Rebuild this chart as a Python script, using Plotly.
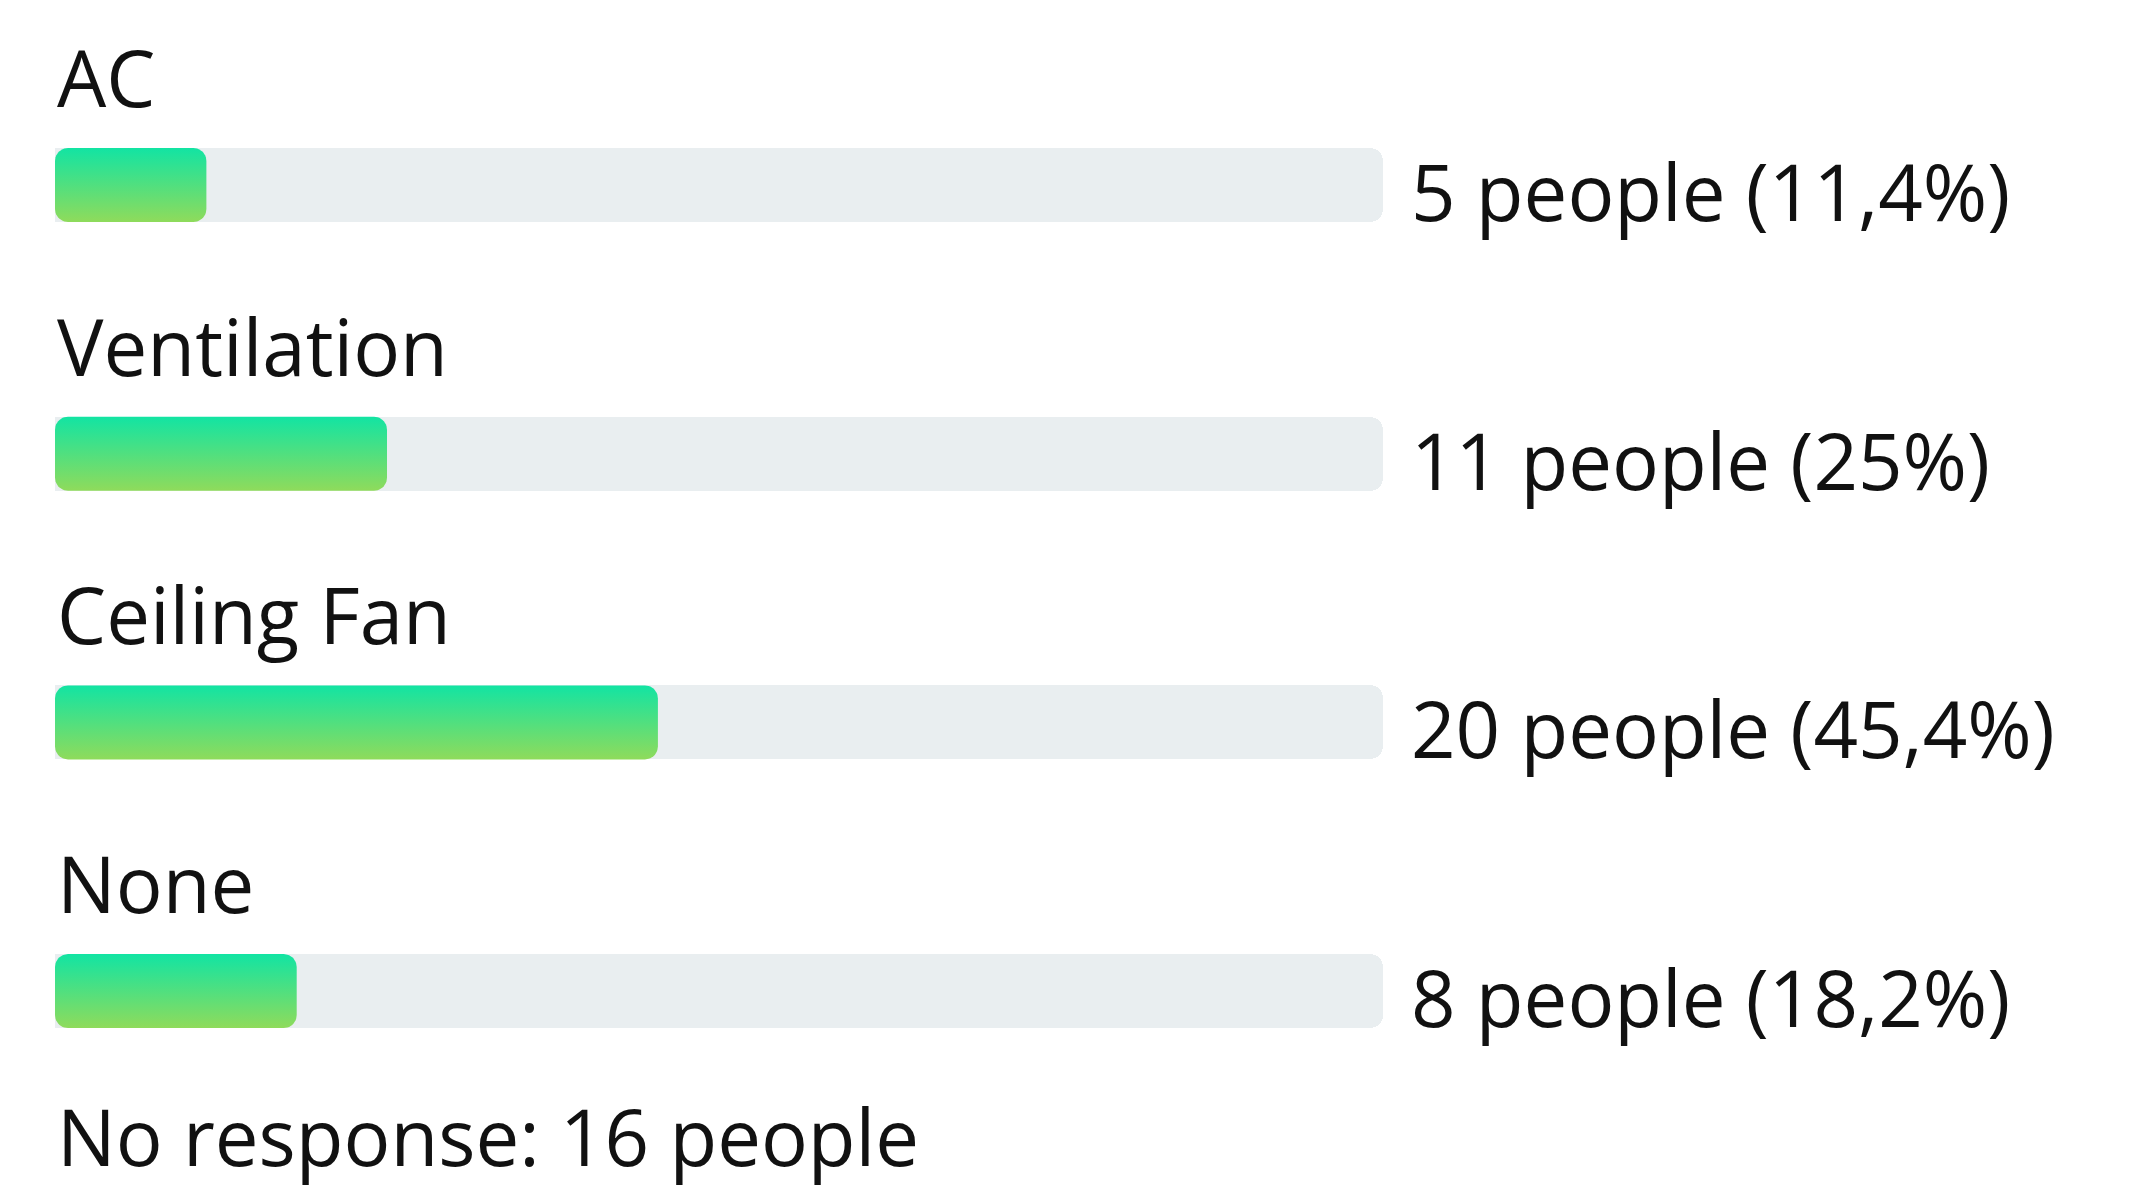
import numpy as np
import plotly.graph_objects as go

# ---- data ----
categories = ["AC", "Ventilation", "Ceiling Fan", "None"]
counts = [5, 11, 20, 8]
percents = [11.4, 25, 45.4, 18.2]
pct_labels = ["11,4%", "25%", "45,4%", "18,2%"]
no_response = 16

# ---- layout constants (pixels, relative to the figure div) ----
W, H = 2129, 1181
track_left_px, track_right_px = 47, 1375
first_center_px, step_px = 177, 268.7
bar_px = 74
radius_px = 13
FONT = "Open Sans"
FS = 78
label_shift = 108
value_shift = -6
footer_shift = label_shift - step_px + 16

sx = (track_right_px - track_left_px) / 100.0
x0 = -track_left_px / sx
x1 = x0 + W / sx
sy = step_px
y_top = -first_center_px / sy
y_bot = y_top + H / sy
bar_w = bar_px / sy

ypos = list(range(len(categories)))

fig = go.Figure()

# grey track (100%)
fig.add_trace(go.Bar(
    x=[100] * len(categories), y=ypos, orientation="h", width=bar_w,
    marker=dict(color="#e9eef0", cornerradius=radius_px, line=dict(width=0)),
    hoverinfo="skip", showlegend=False,
))


def rounded_rect(xa, xb, yc, half_h_px, r_px, n=12):
    wpx = (xb - xa) * sx
    r = min(r_px, wpx / 2, half_h_px)
    h = half_h_px
    pts = []
    arcs = [
        (wpx - r, -h + r, -90, 0),
        (wpx - r, h - r, 0, 90),
        (r, h - r, 90, 180),
        (r, -h + r, 180, 270),
    ]
    for cx, cy, a0, a1 in arcs:
        for t in np.linspace(np.radians(a0), np.radians(a1), n):
            pts.append((cx + r * np.cos(t), cy + r * np.sin(t)))
    pts.append(pts[0])
    xs = [xa + p[0] / sx for p in pts]
    ys = [yc + p[1] / sy for p in pts]
    return xs, ys


for i, p in enumerate(percents):
    xs, ys = rounded_rect(0, p, ypos[i], bar_px / 2, radius_px)
    fig.add_trace(go.Scatter(
        x=xs, y=ys, mode="lines", fill="toself", line=dict(width=0),
        fillgradient=dict(type="vertical",
                          colorscale=[[0, "#12e4a3"], [1, "#8fdb5b"]],
                          start=ypos[i] - bar_w / 2, stop=ypos[i] + bar_w / 2),
        hoverinfo="skip", showlegend=False,
    ))

annotations = []
for i, c in enumerate(categories):
    annotations.append(dict(
        x=0, y=ypos[i], xref="x", yref="y", text=c, showarrow=False,
        xanchor="left", yanchor="middle", yshift=label_shift,
        font=dict(family=FONT, size=FS, color="#111111"),
    ))
    annotations.append(dict(
        x=100, y=ypos[i], xref="x", yref="y",
        text=f"{counts[i]} people ({pct_labels[i]})", showarrow=False,
        xanchor="left", yanchor="middle", xshift=26, yshift=value_shift,
        font=dict(family=FONT, size=FS, color="#111111"),
    ))
# footer placed one row below the last category
annotations.append(dict(
    x=0, y=ypos[-1], xref="x", yref="y",
    text=f"No response: {no_response} people", showarrow=False,
    xanchor="left", yanchor="middle", yshift=footer_shift,
    font=dict(family=FONT, size=FS, color="#111111"),
))

fig.update_layout(
    width=W, height=H, margin=dict(l=0, r=0, t=0, b=0),
    paper_bgcolor="white", plot_bgcolor="white",
    xaxis=dict(range=[x0, x1], visible=False, fixedrange=True),
    yaxis=dict(range=[y_bot, y_top], visible=False, fixedrange=True),
    annotations=annotations, showlegend=False, bargap=0,
)

fig.write_html("out.html")
